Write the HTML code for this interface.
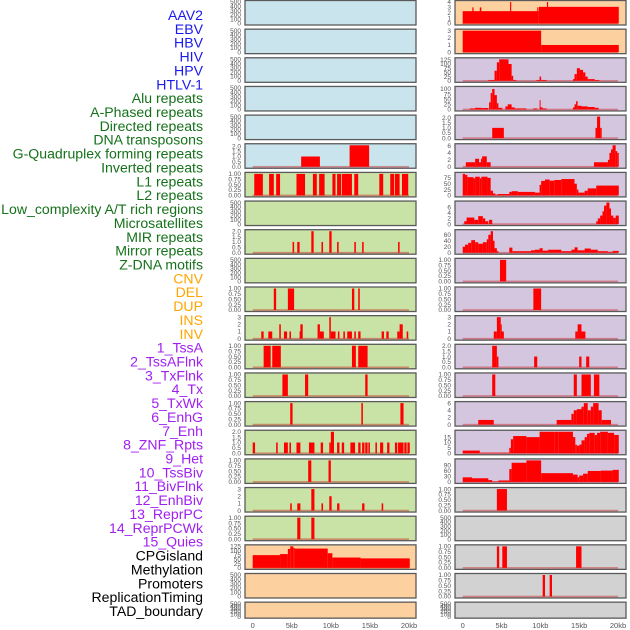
<!DOCTYPE html>
<html><head><meta charset="utf-8"><style>
html,body{margin:0;padding:0;background:#fff;width:630px;height:630px;overflow:hidden}
svg{display:block}
</style></head><body>
<svg id="chart" width="630" height="630" xmlns="http://www.w3.org/2000/svg"></svg>
<script>
// ---- data ----
const trackLabels = ["AAV2","EBV","HBV","HIV","HPV","HTLV-1","Alu repeats","A-Phased repeats","Directed repeats","DNA transposons","G-Quadruplex forming repeats","Inverted repeats","L1 repeats","L2 repeats","Low_complexity A/T rich regions","Microsatellites","MIR repeats","Mirror repeats","Z-DNA motifs","CNV","DEL","DUP","INS","INV","1_TssA","2_TssAFlnk","3_TxFlnk","4_Tx","5_TxWk","6_EnhG","7_Enh","8_ZNF_Rpts","9_Het","10_TssBiv","11_BivFlnk","12_EnhBiv","13_ReprPC","14_ReprPCWk","15_Quies","CPGisland","Methylation","Promoters","ReplicationTiming","TAD_boundary"];
const labelGroups = ["v","v","v","v","v","v","r","r","r","r","r","r","r","r","r","r","r","r","r","s","s","s","s","s","c","c","c","c","c","c","c","c","c","c","c","c","c","c","c","o","o","o","o","o"];
const xTickValues = [0,5,10,15,20];
const xTickLabels = ["0","5kb","10kb","15kb","20kb"];
const T500 = [0,100,200,300,400,500];
const T1 = [0,0.25,0.5,0.75,1];
const T2 = [0,0.5,1,1.5,2];
const T3 = [0,1,2,3];

// column 1 panels
const col1Bg = ["b","b","b","b","b","b","g","g","g","g","g","g","g","g","g","g","g","g","g","o","o","o"];
const col1Max = [500,500,500,500,500,2.1,1,500,2,500,1,3,1,1,1,2,1,3,1,125,500,500];
const col1Ticks = [T500,T500,T500,T500,T500,T2,T1,T500,T2,T500,T1,T3,T1,T1,T1,T2,T1,T3,T1,[0,25,50,75,100,125],T500,T500];
const col1Segs = [
 [],[],[],[],[],
 [[6.2,8.6,1],[12.4,14.9,2.1]],
 [[0.2,1.3,1],[2.1,2.7,1],[3.0,3.5,1],[5.6,6.7,1],[7.7,8.2,1],[8.5,9.2,1],[10.2,10.6,1],[10.8,11.3,1],[11.4,12.7,1],[13.0,13.5,1],[16.2,16.7,1],[17.6,18.1,1],[18.2,18.8,1],[19.1,19.9,1]],
 [],
 [[5.1,5.3,1],[5.7,6.0,1],[7.5,7.8,2],[8.8,9.0,1],[9.8,10.1,2],[10.8,11.0,1],[13.0,13.2,1],[14.0,14.2,1],[18.6,18.8,1]],
 [],
 [[2.7,3.0,1],[4.5,5.3,1],[12.7,13.0,1],[13.5,13.7,1]],
 [[1.1,1.4,1],[2.0,2.5,1],[3.4,3.6,2],[4.0,4.4,1],[4.7,4.9,1],[6.0,6.1,1],[6.1,6.4,2],[8.3,8.6,2],[8.6,9.1,1],[9.8,10.0,3],[10.0,10.6,1],[10.9,11.1,1],[11.6,11.8,1],[12.1,12.7,1],[13.0,13.2,1],[13.5,13.8,1],[16.5,16.8,1],[17.1,17.4,1],[18.5,18.8,1],[18.8,19.2,2],[19.7,19.9,1]],
 [[1.4,2.3,1],[2.5,3.6,1],[12.7,13.2,1],[13.5,14.7,1]],
 [[3.8,4.5,1],[6.7,7.1,1],[14.4,14.7,1]],
 [[4.8,5.1,1],[13.9,14.1,1],[18.9,19.3,1]],
 [[0.0,0.3,1],[3.0,3.2,1],[4.0,4.5,1],[4.7,4.9,1],[5.6,6.1,1],[7.2,7.9,1],[8.7,9.0,1],[9.8,10.0,1],[10.0,10.4,2],[10.8,11.1,1],[11.4,11.7,1],[12.5,13.1,1],[13.5,13.8,1],[14.0,14.3,1],[14.4,14.7,1],[14.8,15.0,1],[15.7,15.9,1],[16.3,16.7,1],[17.2,17.5,1],[18.2,18.5,1],[18.6,19.3,1],[19.4,19.7,1],[19.8,20.1,1]],
 [[7.1,7.5,1],[9.7,10.0,1]],
 [[4.8,5.0,1],[5.7,6.1,1],[7.5,7.9,3],[8.8,9.0,1],[9.8,10.1,2],[10.8,11.1,1],[14.0,14.3,1],[16.5,16.7,1]],
 [[5.7,6.1,1],[7.5,7.9,1]],
 [[0,3.5,74],[3.5,4.5,80],[4.5,4.8,110],[4.8,5.2,125],[5.2,5.4,115],[5.4,9.6,112],[9.6,10.2,85],[10.2,13.8,60],[13.8,20.1,55]],
 [],[]
];

// column 2 panels
const col2Bg = ["o","o","p","p","p","p","p","p","p","p","p","p","p","p","p","p","p","x","x","x","x","x"];
const col2Max = [4,3,128,105,2.1,6.2,92,7.6,72,1,1,3,2,1,6,20,118,1,500,1,1,500];
const col2Ticks = [[0,1,2,3,4],T3,[0,25,50,75,100,125],[0,25,50,75,100],T2,[0,2,4,6],[0,25,50,75],[0,2,4,6],[0,20,40,60],T1,T1,T3,T2,T1,[0,2,4,6],[0,5,10,15],[0,30,60,90],T1,T500,T1,T1,T500];
const col2Segs = [
 [[0,9.8,2.3],[9.8,20.1,3.1],[1.24,1.4,3],[2.2,2.4,3],[6.1,6.25,4],[9.6,9.7,3],[10.85,11.0,4]],
 [[0,10.1,3],[10.1,20.1,1]],
 [[3.3,4.1,5],[4.1,4.4,60],[4.4,4.7,110],[4.7,5.9,128],[5.9,6.3,100],[6.3,6.5,30],[6.5,6.9,5],[9.5,9.9,5],[9.9,10.1,25],[10.1,10.8,5],[14.2,14.4,10],[14.4,14.7,40],[14.7,15.1,75],[15.1,15.5,65],[15.5,15.8,50],[15.8,16.1,25],[16.1,17.0,10],[17.0,17.6,5]],
 [[0.9,1.6,5],[1.6,2.4,8],[2.4,3.3,7],[3.4,3.6,35],[3.6,3.8,80],[3.8,4.1,100],[4.1,4.4,70],[4.4,4.6,30],[4.6,5.1,8],[5.5,5.8,15],[5.8,6.3,25],[6.3,6.7,10],[6.7,8.2,5],[9.1,9.6,5],[9.9,10.0,45],[10.0,10.3,10],[10.3,10.8,5],[14.2,14.4,10],[14.4,14.6,25],[14.6,14.8,40],[14.8,15.3,18],[15.3,16.1,15],[16.1,17.0,12],[17.0,17.5,8]],
 [[3.8,5.3,1],[17.1,17.3,1],[17.3,17.7,2.1],[17.7,17.9,1]],
 [[0.4,1.6,1.3],[1.6,2.1,2.3],[2.1,2.35,1.3],[2.35,2.5,2.3],[2.5,3.1,3],[3.1,3.6,1.3],[16.9,18.7,1.3],[18.7,18.9,2],[18.9,19.1,4],[19.1,19.3,5],[19.3,19.7,6.2],[19.7,19.9,4.5],[19.9,20.1,4]],
 [[0,0.3,92],[0.3,0.6,88],[0.6,1.4,78],[1.4,1.6,73],[1.6,2.2,80],[2.2,2.4,73],[2.4,3.2,80],[3.2,3.6,75],[3.6,3.9,20],[3.9,4.2,8],[4.2,4.5,3],[4.5,6.0,6],[6.0,6.3,15],[6.3,7.1,18],[7.1,9.3,15],[9.3,9.9,12],[9.9,10.1,45],[10.1,10.6,62],[10.6,11.2,68],[11.2,11.8,63],[11.8,12.7,66],[12.7,14.4,70],[14.4,14.7,50],[14.7,14.9,25],[14.9,15.7,12],[15.7,16.1,20],[16.1,17.2,30],[17.2,20.1,42]],
 [[0.2,0.5,1],[0.5,1.5,2.3],[1.5,2.0,1.5],[2.0,2.6,2.8],[2.6,2.9,2],[2.9,3.3,1],[3.4,3.8,1.5],[17.2,17.4,1],[17.4,17.7,2],[17.7,18.0,3],[18.0,18.2,4.5],[18.2,18.5,6.5],[18.5,18.9,7.6],[18.9,19.1,5.5],[19.1,19.4,3],[19.4,19.7,2.2],[19.7,20.1,3]],
 [[0,0.3,20],[0.3,0.7,27],[0.7,1.1,33],[1.1,1.6,42],[1.6,2.0,35],[2.0,2.6,30],[2.6,3.1,35],[3.1,3.3,45],[3.3,3.6,60],[3.6,3.9,72],[3.9,4.1,40],[4.1,4.4,15],[4.4,4.6,5],[6.0,6.4,17],[6.4,8.8,5],[8.8,9.3,8],[9.3,9.9,10],[9.9,10.3,15],[10.3,11.0,7],[11.0,12.7,10],[12.7,14.0,5],[14.0,14.4,10],[14.4,14.8,18],[14.8,15.7,8],[15.7,16.5,14],[16.5,17.4,10],[17.4,18.7,5],[18.7,19.3,3],[19.3,20.1,6]],
 [[4.8,5.6,1]],
 [[9.1,10.1,1]],
 [[4.0,4.4,1],[4.4,4.9,3],[4.9,5.0,2],[5.0,5.3,1],[14.5,14.8,1],[14.8,15.3,2],[15.3,15.8,1]],
 [[3.8,4.4,2.1],[4.4,4.6,1],[9.2,9.6,1],[15.0,15.3,1],[15.9,16.3,1]],
 [[3.8,4.2,1],[14.3,14.7,1],[15.3,16.5,1],[16.9,17.6,1]],
 [[2.0,4.0,1.3],[12.1,14.0,1.3],[14.0,14.3,3],[14.3,14.7,4],[14.7,15.3,4.3],[15.3,15.6,5],[15.6,16.1,6.2],[16.1,16.5,4],[16.5,16.8,5],[16.8,17.5,6.2],[17.5,17.9,4],[17.9,19.1,1.3]],
 [[0,2.2,2.5],[2.2,6.0,0.5],[6.0,6.2,5],[6.2,6.5,13],[6.5,8.2,16],[8.2,9.9,15],[9.9,11.8,22],[11.8,12.3,23],[12.3,14.2,22],[14.2,14.5,15],[14.5,14.7,8],[14.7,15.0,7],[15.0,15.3,8],[15.3,15.7,12],[15.7,16.0,15],[16.0,16.3,18],[16.3,17.0,19],[17.0,17.3,17],[17.3,17.7,19],[17.7,18.7,20],[18.7,19.5,19],[19.5,20.1,17]],
 [[0,1.2,25],[1.2,3.3,20],[3.3,3.8,10],[3.8,4.6,2],[4.6,6.0,8],[6.0,6.3,70],[6.3,8.2,105],[8.2,10.1,118],[10.1,14.2,48],[14.2,14.8,40],[14.8,15.0,25],[15.0,15.5,35],[15.5,16.1,45],[16.1,17.8,60],[17.8,19.3,62],[19.3,20.1,66]],
 [[4.4,5.7,1]],
 [],
 [[4.4,4.7,1],[5.1,5.7,1],[14.6,15.3,1]],
 [[10.3,10.6,1],[11.2,11.5,1]],
 []
];

// ---- drawing ----
const NS = "http://www.w3.org/2000/svg";
const svg = document.getElementById("chart");
const bgColors = {b:"#c9e4ec",g:"#c9e2a5",o:"#fdd0a0",p:"#d5c6e0",x:"#d2d2d2"};
const labelColors = {v:"#1a1aee",r:"#15711a",s:"#ffa500",c:"#a020f0",o:"#000000"};
const colX = [{left:245,right:416,x0:252.7,x20:409},{left:455,right:626,x0:462.7,x20:618}];
function rowTop(i){return 0.5 + 28.65*i;}
function rowH(i){return i===21 ? 16 : 24.5;}
function xScale(c,kb){return colX[c].x0 + (colX[c].x20-colX[c].x0)*kb/20;}
function yScale(i,v,ymax){const t=rowTop(i)+1.5, b=rowTop(i)+rowH(i)-1.5; return b-(b-t)*v/ymax;}
function mk(tag,attrs,parent){const e=document.createElementNS(NS,tag);for(const k in attrs)e.setAttribute(k,attrs[k]);(parent||svg).appendChild(e);return e;}

trackLabels.forEach((lab,i)=>{
  const t = mk("text",{x:203,y:15+13.86*i+5,"text-anchor":"end","font-size":"14.1","font-family":"Liberation Sans, sans-serif",fill:labelColors[labelGroups[i]]});
  
  
  t.textContent = lab;
});

function drawCol(c,bgs,maxes,ticks,segs){
  for(let i=0;i<22;i++){
    const g = mk("g",{});
    
    
    const L=colX[c].left, R=colX[c].right, top=rowTop(i), h=rowH(i);
    const bg = mk("rect",{x:L,y:top,width:R-L,height:h,fill:bgColors[bgs[i]],stroke:"#5a5a5a","stroke-width":1.3},g);
    
    
    const ymax = maxes[i];
    ticks[i].forEach(v=>{
      const tl = mk("text",{x:L-4,y:yScale(i,v,ymax)+2.2,"text-anchor":"end","font-size":"6.5","font-family":"Liberation Sans, sans-serif",fill:"#555"},g);
      
      
      tl.textContent = (ticks[i]===T1) ? v.toFixed(2) : ((ticks[i]===T2)? v.toFixed(1) : String(v));
    });
    if(segs[i].length){
      const base = mk("rect",{x:xScale(c,0),y:yScale(i,0,ymax)-0.8,width:xScale(c,20)-xScale(c,0),height:1.6,fill:"rgba(200,30,30,0.45)"},g);
      
      
    }
    segs[i].forEach(s=>{
      const x1=xScale(c,s[0]), x2=xScale(c,s[1]), y=yScale(i,Math.min(s[2],ymax),ymax), y0=yScale(i,0,ymax);
      const r = mk("rect",{x:x1,y:y,width:Math.max(1,x2-x1),height:y0-y,fill:"#ff0000"},g);
      
      
    });
  }
  xTickValues.forEach((v,k)=>{
    const t = mk("text",{x:xScale(c,v),y:628,"text-anchor":"middle","font-size":"7.5","font-family":"Liberation Sans, sans-serif",fill:"#555"});
    
    
    t.textContent = xTickLabels[k];
  });
}
drawCol(0,col1Bg,col1Max,col1Ticks,col1Segs);
drawCol(1,col2Bg,col2Max,col2Ticks,col2Segs);
</script>
</body></html>
